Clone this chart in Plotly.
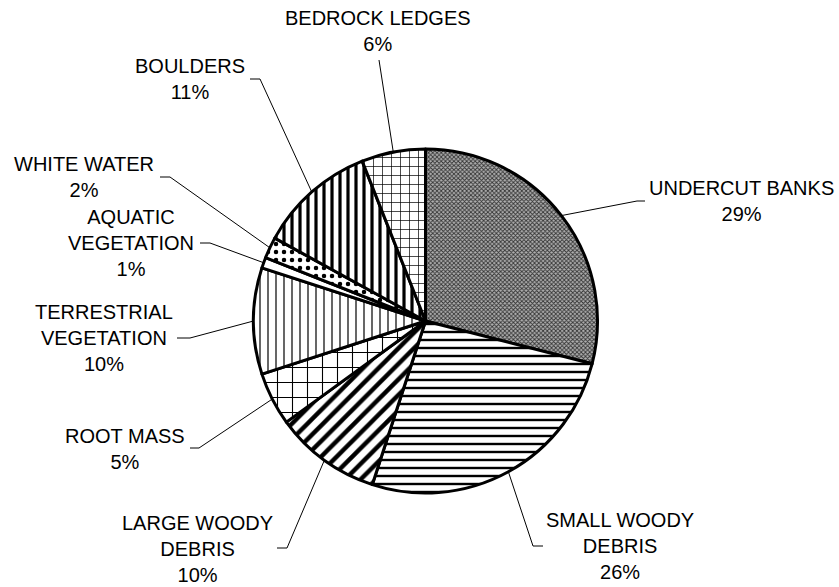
import math
import plotly.graph_objects as go

# ---- data ----
categories = ["UNDERCUT BANKS", "SMALL WOODY DEBRIS", "LARGE WOODY DEBRIS", "ROOT MASS",
              "TERRESTRIAL VEGETATION", "AQUATIC VEGETATION", "WHITE WATER", "BOULDERS",
              "BEDROCK LEDGES"]
percents = [29, 26, 10, 5, 10, 1, 2, 11, 6]
label_text = ["UNDERCUT BANKS", "SMALL WOODY<br>DEBRIS", "LARGE WOODY<br>DEBRIS", "ROOT MASS",
              "TERRESTRIAL<br>VEGETATION", "AQUATIC<br>VEGETATION", "WHITE WATER", "BOULDERS",
              "BEDROCK LEDGES"]

# ---- layout / style ----
W, H = 839, 587
CX, CY, R = 425.5, 321.0, 172.0
shapes_ = ["x", "-", "/", "+", "|", "", ".", "|", "+"]
sizes_ = [3, 8, 11, 15, 8, 8, 8, 8, 9]
solid_ = [0.5, 0.3, 0.4, 0.14, 0.15, 0.2, 0.25, 0.4, 0.15]
fg_ = ["#333333", "black", "black", "black", "black", "black", "black", "black", "black"]
bg_ = ["#b0b0b0", "white", "white", "white", "white", "white", "white", "white", "white"]
# label block centres (px) and leader elbow / end points (px)
label_pos = [(741, 201), (620, 546), (197, 549), (125, 449), (104, 338), (131, 243),
             (84, 177), (190, 79), (378, 31)]
elbows = [((637, 201), (645, 201)), ((533, 546), (543, 546)), ((287, 548), (277, 548)),
          ((199, 448), (190, 448)), ((190, 338), (177, 338)), ((210, 243), (200, 243)),
          ((170, 177), (160, 177)), ((260, 79), (250, 79)), ((379, 60), (379, 60))]

def px(x, y):
    return x / W, 1 - y / H

fig = go.Figure()
fig.add_trace(go.Pie(
    labels=categories, values=percents, sort=False, direction="clockwise", rotation=0,
    textinfo="none", hoverinfo="label+percent", showlegend=False,
    domain=dict(x=[(CX - R) / W, (CX + R) / W], y=[1 - (CY + R) / H, 1 - (CY - R) / H]),
    marker=dict(colors=bg_, line=dict(color="black", width=3),
                pattern=dict(shape=shapes_, size=sizes_, solidity=solid_,
                             fgcolor=fg_, bgcolor=bg_, fgopacity=1, fillmode="overlay")),
))

total = sum(percents)
cum = 0
shape_list = []
annotations = []
for i, v in enumerate(percents):
    mid = (cum + v / 2) / total * 2 * math.pi
    cum += v
    ex, ey = CX + R * math.sin(mid), CY - R * math.cos(mid)
    (e1x, e1y), (e2x, e2y) = elbows[i]
    p0, p1, p2 = px(ex, ey), px(e1x, e1y), px(e2x, e2y)
    shape_list.append(dict(type="path", xref="paper", yref="paper",
                           path=f"M {p0[0]},{p0[1]} L {p1[0]},{p1[1]} L {p2[0]},{p2[1]}",
                           line=dict(color="black", width=1)))
    lx, ly = px(*label_pos[i])
    annotations.append(dict(x=lx, y=ly, xref="paper", yref="paper", showarrow=False,
                            xanchor="center", yanchor="middle", align="center",
                            text=f"{label_text[i]}<br>{v}%",
                            font=dict(family="Liberation Sans, Arial", size=20, color="black")))

fig.update_layout(width=W, height=H, margin=dict(l=0, r=0, t=0, b=0),
                  paper_bgcolor="white", plot_bgcolor="white",
                  shapes=shape_list, annotations=annotations)
fig.write_html("out.html", config={"displayModeBar": False},
               post_script="document.body.style.margin='0';document.body.style.overflow='hidden';")
